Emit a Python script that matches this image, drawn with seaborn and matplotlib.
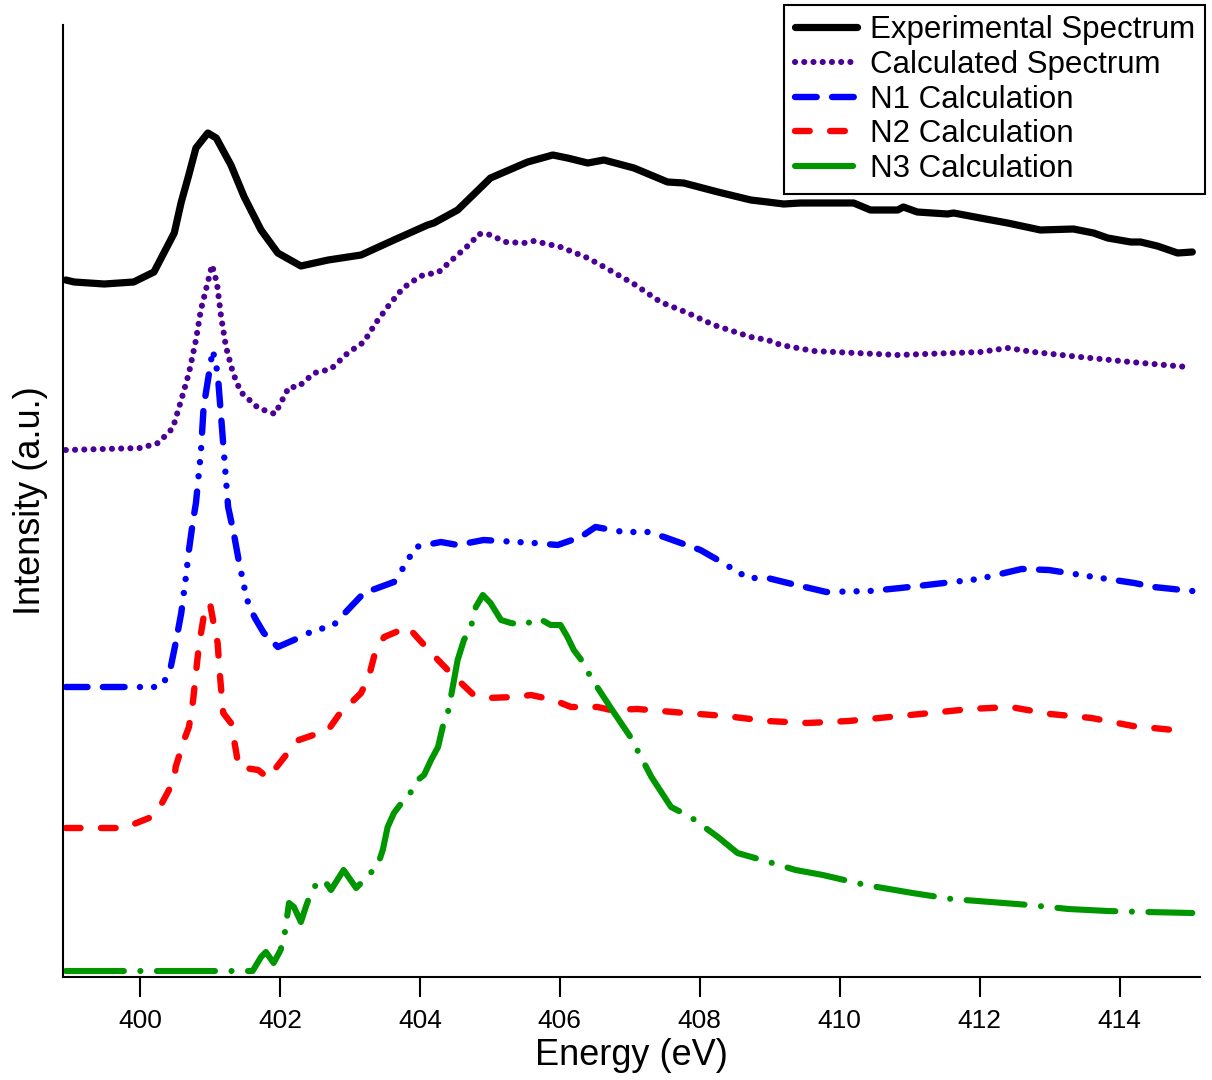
import matplotlib
matplotlib.use('Agg')
import matplotlib.pyplot as plt
import seaborn as sns

# ---------------- data (energy in eV, intensity in arbitrary offset units) ----------------
energy_exp = [398.94, 399.06, 399.49, 399.91, 400.2, 400.49, 400.59, 400.69, 400.8, 400.97,
              401.09, 401.16, 401.3, 401.49, 401.73, 401.97, 402.3, 402.69, 403.16, 403.63,
              404.11, 404.2, 404.54, 405.01, 405.54, 405.9, 406.11, 406.4, 406.63, 407.06,
              407.54, 407.77, 408.26, 408.73, 408.97, 409.2, 409.44, 410.2, 410.44, 410.83,
              410.91, 411.11, 411.54, 411.63, 412.01, 412.4, 412.87, 413.34, 413.63, 413.83,
              414.16, 414.3, 414.54, 414.83, 415.04]
intensity_exp = [697, 695, 693, 695, 705, 744, 775, 800, 829, 844,
                 839, 830, 812, 780, 747, 724, 711, 717, 722, 737,
                 752, 754, 767, 799, 815, 822, 819, 814, 817, 809,
                 795, 794, 785, 777, 775, 773, 774, 774, 767, 767,
                 770, 765, 763, 764, 759, 754, 747, 748, 744, 739,
                 735, 735, 731, 724, 725]

energy_calc = [398.94, 400.01, 400.26, 400.47, 400.59, 400.7, 400.8, 400.87, 400.97, 401.03,
               401.1, 401.16, 401.23, 401.33, 401.44, 401.69, 401.93, 402.13, 402.26, 402.49,
               402.73, 402.97, 403.2, 403.37, 403.56, 403.76, 404.01, 404.27, 404.49, 404.73,
               404.84, 404.97, 405.23, 405.49, 405.63, 406.01, 406.4, 406.66, 407.06, 407.44,
               407.83, 408.2, 408.73, 408.97, 409.16, 409.63, 410.83, 412.01, 412.4, 412.77,
               413.44, 414.16, 414.97]
intensity_calc = [527, 529, 534, 549, 577, 604, 637, 667, 695, 712,
                  694, 660, 630, 604, 585, 569, 563, 590, 590, 604,
                  608, 624, 635, 654, 672, 689, 701, 705, 719, 734,
                  743, 743, 735, 734, 736, 730, 719, 709, 693, 675,
                  664, 652, 640, 637, 632, 626, 622, 625, 629, 625,
                  620, 615, 610]

energy_n1 = [398.94, 400.26, 400.34, 400.44, 400.51, 400.59, 400.66, 400.7, 400.76, 400.8,
             400.87, 400.91, 401.04, 401.11, 401.16, 401.2, 401.26, 401.34, 401.41, 401.49,
             401.56, 401.66, 401.77, 401.97, 402.2, 402.44, 402.77, 403.01, 403.2, 403.63,
             403.77, 403.94, 404.3, 404.54, 404.91, 405.63, 405.97, 406.3, 406.51, 406.91,
             407.26, 407.49, 408.01, 408.26, 408.69, 408.97, 409.26, 409.81, 410.43, 410.87,
             411.49, 411.99, 412.6, 412.99, 413.54, 414.21, 414.49, 415.04]
intensity_n1 = [290, 290, 294, 310, 334, 364, 402, 427, 457, 474,
                524, 570, 627, 604, 560, 524, 470, 444, 417, 390,
                370, 357, 344, 330, 337, 345, 352, 370, 384, 395,
                410, 430, 435, 432, 437, 434, 432, 440, 450, 445,
                445, 440, 427, 417, 399, 399, 394, 385, 386, 389,
                394, 398, 408, 407, 401, 394, 390, 386]

energy_n2 = [398.94, 399.77, 400.13, 400.3, 400.49, 400.51, 400.63, 400.7, 400.76, 400.8,
             400.84, 400.91, 401.0, 401.07, 401.11, 401.14, 401.19, 401.3, 401.37, 401.41,
             401.69, 401.83, 402.11, 402.27, 402.69, 402.84, 403.16, 403.27, 403.37, 403.49,
             403.83, 403.97, 404.26, 404.44, 404.77, 404.97, 405.34, 405.59, 405.91, 406.16,
             406.54, 406.73, 407.11, 407.79, 408.37, 408.96, 409.54, 410.13, 410.71, 411.3,
             411.86, 412.44, 413.01, 413.6, 414.19, 414.77, 414.94]
intensity_n2 = [149, 149, 159, 172, 197, 210, 237, 250, 277, 304,
                330, 360, 374, 347, 334, 304, 264, 254, 227, 210,
                207, 199, 224, 237, 247, 262, 284, 300, 327, 340,
                350, 339, 317, 304, 282, 279, 280, 282, 277, 270,
                270, 267, 268, 264, 261, 256, 254, 256, 260, 264,
                268, 270, 263, 259, 251, 247, 246]

energy_n3 = [398.94, 401.61, 401.73, 401.8, 401.91, 402.01, 402.07, 402.13, 402.2, 402.3,
             402.37, 402.44, 402.54, 402.63, 402.73, 402.91, 403.01, 403.09, 403.23, 403.4,
             403.47, 403.54, 403.63, 403.77, 403.83, 403.97, 404.06, 404.16, 404.26, 404.34,
             404.41, 404.47, 404.54, 404.63, 404.73, 404.8, 404.9, 405.01, 405.16, 405.3,
             405.49, 405.69, 405.87, 406.01, 406.11, 406.2, 406.34, 406.44, 406.59, 406.73,
             407.01, 407.31, 407.59, 407.87, 408.26, 408.54, 408.99, 409.37, 409.76, 410.37,
             411.04, 411.6, 412.16, 412.71, 413.27, 413.83, 414.39, 415.04]
intensity_n3 = [6, 6, 20, 25, 14, 27, 44, 74, 70, 55,
                70, 84, 95, 97, 87, 107, 97, 89, 99, 112,
                127, 150, 164, 177, 180, 197, 202, 217, 230, 254,
                267, 290, 317, 337, 350, 370, 382, 374, 357, 354,
                352, 359, 352, 352, 340, 327, 314, 300, 284, 269,
                240, 200, 170, 160, 140, 124, 115, 107, 102, 92,
                84, 78, 75, 72, 68, 66, 65, 64]

labels = ['Experimental Spectrum', 'Calculated Spectrum', 'N1 Calculation',
          'N2 Calculation', 'N3 Calculation']
xticks = [400, 402, 404, 406, 408, 410, 412, 414]

# ---------------- styling ----------------
sns.set_style('ticks')
plt.rcParams['font.family'] = ['Liberation Sans', 'DejaVu Sans']
plt.rcParams['text.color'] = 'black'
plt.rcParams['axes.labelcolor'] = 'black'
plt.rcParams['xtick.color'] = 'black'
plt.rcParams['ytick.color'] = 'black'

W, H = 1212, 1080
fig = plt.figure(figsize=(W / 100, H / 100), dpi=100)
ax = fig.add_axes([63 / W, 1 - 977 / H, (1200 - 63) / W, (977 - 25) / H])

styles = [
    dict(color='#000000', lw=5.2, ls='-'),
    dict(color='#4b0096', lw=4.4, ls=(0, (0.01, 1.5))),
    dict(color='#0000ff', lw=4.6, ls=(0, (3.4, 2.4, 3.4, 2.4, 0.01, 2.2, 0.01, 2.2, 0.01, 2.4))),
    dict(color='#ff0000', lw=4.6, ls=(0, (2.3, 3.2))),
    dict(color='#009600', lw=4.4, ls=(0, (9.5, 2.7, 0.01, 2.7))),
]
data = [(energy_exp, intensity_exp), (energy_calc, intensity_calc),
        (energy_n1, intensity_n1), (energy_n2, intensity_n2), (energy_n3, intensity_n3)]

for (xs, ys), st, lab in zip(data, styles, labels):
    sns.lineplot(x=xs, y=ys, ax=ax, color=st['color'], linewidth=st['lw'],
                 linestyle=st['ls'], label=lab, estimator=None, sort=False,
                 dash_capstyle='round', solid_capstyle='round',
                 dash_joinstyle='round', solid_joinstyle='round')

ax.set_xlim(398.9, 415.15)
ax.set_ylim(0, 952)
ax.set_xticks(xticks)
ax.set_xticklabels([str(t) for t in xticks])
ax.set_yticks([])
ax.tick_params(axis='x', direction='out', length=14.4, width=1.5, labelsize=19,
               pad=9, colors='black')
for s in ['top', 'right']:
    ax.spines[s].set_visible(False)
for s in ['left', 'bottom']:
    ax.spines[s].set_linewidth(1.5)
    ax.spines[s].set_color('black')

ax.set_xlabel('Energy (eV)', fontsize=26, labelpad=3, color='black')
ax.set_ylabel('Intensity (a.u.)', fontsize=26, labelpad=11, color='black')

leg = ax.legend(loc='upper right', bbox_to_anchor=(1205 / W, 1 - 5 / H),
                bbox_transform=fig.transFigure, borderaxespad=0, fontsize=22.5,
                frameon=True, fancybox=False, framealpha=1, edgecolor='black',
                handlelength=2.0, handletextpad=0.4, borderpad=0.33, labelspacing=0.15,
                labelcolor='black')
leg.get_frame().set_linewidth(1.5)

fig.savefig('out.png', dpi=100)
